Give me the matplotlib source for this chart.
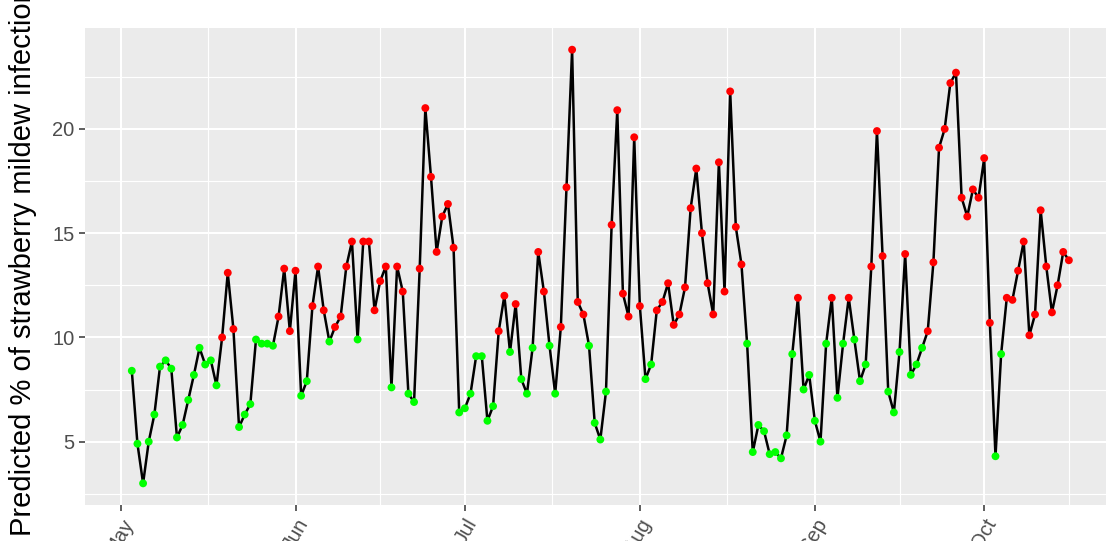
import matplotlib
matplotlib.use("Agg")
import matplotlib.pyplot as plt
import matplotlib.dates as mdates
import numpy as np
import pandas as pd

start_date = "2021-05-03"
infection = [
    8.4, 4.9, 3.0, 5.0, 6.3, 8.6, 8.9, 8.5, 5.2, 5.8, 7.0, 8.2, 9.5, 8.7, 8.9, 7.7,
    10.0, 13.1, 10.4, 5.7, 6.3, 6.8, 9.9, 9.7, 9.7, 9.6, 11.0, 13.3, 10.3, 13.2,
    7.2, 7.9, 11.5, 13.4, 11.3, 9.8, 10.5, 11.0, 13.4, 14.6, 9.9, 14.6, 14.6, 11.3,
    12.7, 13.4, 7.6, 13.4, 12.2, 7.3, 6.9, 13.3, 21.0, 17.7, 14.1, 15.8, 16.4, 14.3,
    6.4, 6.6, 7.3, 9.1, 9.1, 6.0, 6.7, 10.3, 12.0, 9.3, 11.6, 8.0, 7.3, 9.5,
    14.1, 12.2, 9.6, 7.3, 10.5, 17.2, 23.8, 11.7, 11.1, 9.6, 5.9, 5.1,
    7.4, 15.4, 20.9, 12.1, 11.0, 19.6, 11.5, 8.0, 8.7, 11.3, 11.7, 12.6, 10.6, 11.1,
    12.4, 16.2, 18.1, 15.0, 12.6, 11.1, 18.4, 12.2, 21.8, 15.3, 13.5, 9.7, 4.5, 5.8,
    5.5, 4.4, 4.5, 4.2, 5.3, 9.2, 11.9, 7.5, 8.2, 6.0, 5.0, 9.7, 11.9, 7.1, 9.7,
    11.9, 9.9, 7.9, 8.7, 13.4, 19.9, 13.9, 7.4, 6.4, 9.3, 14.0, 8.2, 8.7, 9.5, 10.3,
    13.6, 19.1, 20.0, 22.2, 22.7, 16.7, 15.8, 17.1, 16.7, 18.6, 10.7, 4.3, 9.2,
    11.9, 11.8, 13.2, 14.6, 10.1, 11.1, 16.1, 13.4, 11.2, 12.5, 14.1, 13.7,
]
threshold = 10

dates = pd.date_range(start_date, periods=len(infection), freq="D")
vals = np.array(infection)
colors = np.where(vals >= threshold, "#FF0000", "#00FF00")

fig = plt.figure(figsize=(11.06, 5.41), dpi=100)
ax = fig.add_axes([0.0768, 0.0665, 0.932, 0.8817])
ax.set_facecolor("#EBEBEB")

ax.plot(dates, vals, color="black", lw=1.8, zorder=3)
ax.scatter(dates, vals, c=colors, s=32, zorder=4, linewidths=0)

x0 = mdates.date2num(dates[0])
x1 = mdates.date2num(dates[-1])
xr = x1 - x0
ax.set_xlim(x0 - 0.05 * xr, x1 + 0.05 * xr)
yr = vals.max() - vals.min()
ax.set_ylim(vals.min() - 0.05 * yr, vals.max() + 0.05 * yr)

months = pd.date_range("2021-05-01", "2021-10-01", freq="MS")
major = mdates.date2num(months)
minor = list((major[:-1] + major[1:]) / 2) + [major[-1] + (major[-1] - major[-2]) / 2]
ax.set_xticks(major)
ax.set_xticklabels([m.strftime("%b") for m in months])
ax.set_xticks(minor, minor=True)
ax.set_yticks([5, 10, 15, 20])
ax.set_yticks([2.5, 7.5, 12.5, 17.5, 22.5], minor=True)

ax.grid(which="major", color="white", lw=1.5, zorder=0)
ax.grid(which="minor", color="white", lw=0.8, zorder=0)
ax.set_axisbelow(True)
for s in ax.spines.values():
    s.set_visible(False)

ax.tick_params(which="major", length=4, width=1.1, color="#333333",
               labelcolor="#4D4D4D", labelsize=14.5)
ax.tick_params(which="minor", length=0)
for lab in ax.get_xticklabels():
    lab.set_rotation(60)
    lab.set_ha("right")
    lab.set_va("top")
    lab.set_rotation_mode("anchor")
    lab.set_family("Liberation Sans")
for lab in ax.get_yticklabels():
    lab.set_family("Liberation Sans")

ax.set_ylabel("Predicted % of strawberry mildew infection", fontsize=21,
              family="Liberation Sans", color="black")
ax.yaxis.set_label_coords(-0.0465, 0.512)

fig.savefig("out.png", dpi=100)
